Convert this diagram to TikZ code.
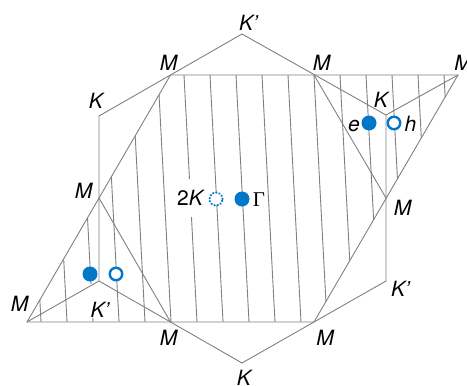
\documentclass[tikz,border=0pt]{standalone}
\usepackage{fontspec}
\setmainfont{TeX Gyre Heros}
\newfontfamily\gammafont{Liberation Serif}
\definecolor{bzline}{HTML}{808080}
\definecolor{bzblue}{HTML}{0077C8}
\newcommand{\pr}{{\char"27}}
\begin{document}
\begin{tikzpicture}[x=1pt,y=-1pt,
  edge/.style={draw=bzline, line width=0.9pt, line join=miter},
  hatch/.style={draw=bzline, line width=0.9pt},
  lab/.style={font=\fontsize{21}{24}\selectfont\itshape, inner sep=0pt, anchor=base},
  whitebox/.style={fill=white},
  fdot/.style={circle, fill=bzblue, minimum size=15pt, inner sep=0pt},
  odot/.style={circle, fill=white, draw=bzblue, line width=2.4pt, minimum size=12.5pt, inner sep=0pt},
  ddot/.style={circle, fill=white, draw=bzblue, line width=2.2pt, line cap=round, dash pattern=on 0.3pt off 2.9pt, minimum size=13pt, inner sep=0pt}]
\useasboundingbox (0,0) rectangle (467,386);
% vertices
\coordinate (Kp1) at (242,34);
\coordinate (K1) at (386,115);
\coordinate (Kp2) at (386,281);
\coordinate (K2) at (242,363);
\coordinate (Kp3) at (99,281);
\coordinate (K3) at (99,116);
\coordinate (M1) at (170.5,75);
\coordinate (M2) at (314,75);
\coordinate (M3) at (386,198);
\coordinate (M4) at (314,322);
\coordinate (M5) at (170.5,322);
\coordinate (M6) at (99,198);
\coordinate (MR) at (458,75);
\coordinate (ML) at (27,322);
% hatching
\begin{scope}
  \clip (M1) -- (MR) -- (M4) -- (ML) -- cycle;
  \foreach \k in {-7,...,11}
    \draw[hatch] ({184+26*\k},75) -- ({197+26*\k},322);
\end{scope}
% white-backed labels
\node[lab, whitebox, inner xsep=3pt, text height=26.5pt, text depth=11.5pt] (l2K) at (190,205.5) {\upshape 2\itshape K};
\node[lab, whitebox, inner xsep=2pt, text height=33pt, text depth=1pt] (lKpbl) at (100,317) {K\pr};
\node[lab, whitebox, inner xsep=4pt, text height=19pt, text depth=3pt] (lKr) at (381,107) {K};
% edges
\draw[edge] (Kp1) -- (K1) -- (Kp2) -- (K2) -- (Kp3) -- (K3) -- cycle;
\draw[edge] (M1) -- (MR) -- (M4) -- (ML) -- cycle;
\draw[edge] (M2) -- (M3);
\draw[edge] (K1) -- (MR);
\draw[edge] (M6) -- (M5);
\draw[edge] (Kp3) -- (ML);
% dots
\node[fdot] (dGamma) at (242,199) {};
\node[ddot] (d2K) at (216,199) {};
\node[fdot] (de) at (369,123) {};
\node[odot] (dh) at (394,123) {};
\node[fdot] (dbl1) at (90,274) {};
\node[odot] (dbl2) at (116,274) {};
% labels
\node[lab] (lKpt) at (248.5,30) {K\pr};
\node[lab] (lM1) at (168.5,70) {M};
\node[lab] (lM2) at (321.5,70) {M};
\node[lab] (lMR) at (463,70) {M};
\node[lab] (lKl) at (96,108) {K};
\node[lab] (le) at (354,131) {e};
\node[lab] (lh) at (410.5,131) {h};
\node[lab] (lM6) at (83.5,198) {M};
\node[lab, font=\fontsize{21}{24}\selectfont\gammafont] (lG) at (259,206) {Γ};
\node[lab] (lM3) at (402.5,215) {M};
\node[lab] (lKpr) at (400.5,296.7) {K\pr};
\node[lab] (lML) at (19.5,311.7) {M};
\node[lab] (lM5) at (168.5,345) {M};
\node[lab] (lM4) at (325,345) {M};
\node[lab] (lKb) at (244,385) {K};
\end{tikzpicture}
\end{document}
